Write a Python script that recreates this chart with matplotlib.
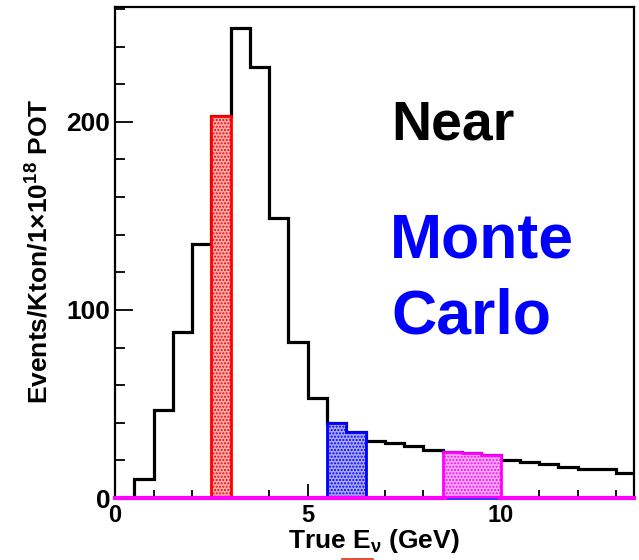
import matplotlib
matplotlib.use("Agg")
import matplotlib.pyplot as plt
from matplotlib.ticker import MultipleLocator, FixedLocator
from matplotlib.lines import Line2D
import matplotlib.transforms as mtransforms

plt.rcParams['font.family'] = ['Liberation Sans', 'DejaVu Sans']
plt.rcParams['font.weight'] = 'bold'
plt.rcParams['mathtext.fontset'] = 'custom'
plt.rcParams['mathtext.rm'] = 'Liberation Sans:bold'
plt.rcParams['mathtext.it'] = 'Liberation Sans:bold'
plt.rcParams['mathtext.bf'] = 'Liberation Sans:bold'
plt.rcParams['mathtext.default'] = 'rm'
plt.rcParams['hatch.linewidth'] = 1.0

# Near detector MC true energy spectrum, 0.5 GeV bins from 0 to 13.5 GeV
bin_edges = [i * 0.5 for i in range(28)]
events = [0, 10, 47, 88, 135, 203, 250, 229, 149, 83, 53, 40, 35, 30.5,
          29.5, 27.5, 25.5, 24.6, 23.7, 22.8, 20.3, 19.0, 18.0, 16.7,
          15.3, 15.3, 13.5]

# Highlighted energy slices
red_edges = [2.5, 3.0]
red_events = [203]
blue_edges = [5.5, 6.0, 6.5]
blue_events = [40, 35]
magenta_edges = [8.5, 9.0, 9.5, 10.0]
magenta_events = [24.6, 23.7, 22.8]

x_major = [0, 5, 10]
y_major = [0, 100, 200]

W, H = 639, 560
fig = plt.figure(figsize=(W / 100, H / 100), dpi=100)
ax = fig.add_axes([115 / W, 1 - 498 / H, (633.5 - 115) / W, (498 - 7) / H])
ax.set_xlim(0, 13.45)
ax.set_ylim(0, 261)

# main spectrum outline
ax.stairs(events, bin_edges, color='black', lw=2.3, zorder=3)

# shaded slices
slices = [
    (red_edges, red_events, '#ff0000', '#f7b0b0'),
    (blue_edges, blue_events, '#0000ff', '#a8a8f4'),
    (magenta_edges, magenta_events, '#ff00ff', '#f7b0f7'),
]
for edges, vals, col, light in slices:
    ax.stairs(vals, edges, baseline=0, fill=True, facecolor=light,
              edgecolor=col, hatch='.....', lw=0, zorder=4)
    ax.stairs(vals, edges, baseline=0, fill=False, color=col, lw=2.0,
              zorder=5)

# baseline
ax.axhline(0, color='#ff00ff', lw=3.0, zorder=6, clip_on=False)
shift = mtransforms.offset_copy(ax.transData, fig=fig, x=0, y=-1.2,
                                units='dots')
ax.plot([8.65, 9.9], [0, 0], color='#2040ff', lw=1.2, zorder=7,
        transform=shift, clip_on=False)

for s in ['left', 'top', 'right']:
    ax.spines[s].set_linewidth(1.6)
    ax.spines[s].set_color('black')
ax.spines['bottom'].set_visible(False)

ax.xaxis.set_major_locator(FixedLocator(x_major))
ax.xaxis.set_minor_locator(MultipleLocator(1))
ax.yaxis.set_major_locator(FixedLocator(y_major))
ax.yaxis.set_minor_locator(MultipleLocator(20))
ax.tick_params(axis='x', which='major', direction='in', length=10, width=1.3,
               labelsize=17, pad=4)
ax.tick_params(axis='x', which='minor', direction='in', length=5.5, width=1.3)
ax.tick_params(axis='y', which='major', direction='in', length=13, width=1.3,
               labelsize=19, pad=3.5)
ax.tick_params(axis='y', which='minor', direction='in', length=7.5, width=1.3)
for lab in ax.get_xticklabels() + ax.get_yticklabels():
    lab.set_fontweight('bold')

fig.text(374 / W, 1 - 548 / H, r'True E$_{\nu}$ (GeV)', fontsize=19,
         fontweight='bold', ha='center', va='baseline')
fig.text(40 / W, 1 - 251 / H, r'Events/Kton/1$\times$10$^{18}$ POT',
         fontsize=19, fontweight='bold', rotation=90, ha='center',
         va='center')

fig.add_artist(Line2D([342 / W, 373 / W], [1 - 558.5 / H, 1 - 558.5 / H],
                      color='#e03010', lw=1.2))

fig.text(391 / W, 1 - 140 / H, 'Near', fontsize=40, fontweight='bold',
         color='black', va='baseline', ha='left')
fig.text(390 / W, 1 - 258 / H, 'Monte', fontsize=45, fontweight='bold',
         color='#0000ff', va='baseline', ha='left')
fig.text(391 / W, 1 - 333 / H, 'Carlo', fontsize=45, fontweight='bold',
         color='#0000ff', va='baseline', ha='left')

fig.savefig('out.png', dpi=100)
